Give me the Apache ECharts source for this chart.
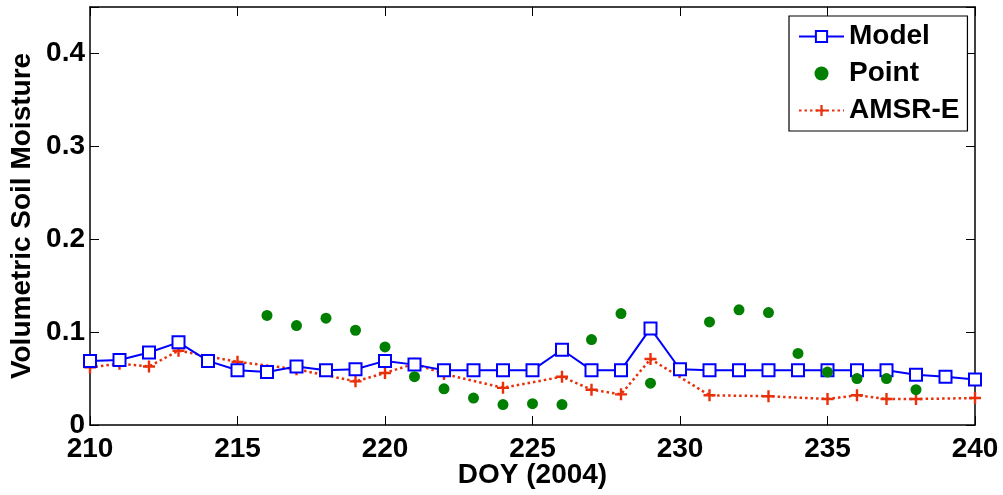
<!DOCTYPE html>
<html>
<head>
<meta charset="utf-8">
<script src="https://cdn.jsdelivr.net/npm/echarts@6/dist/echarts.min.js"></script>
<style>
html,body{margin:0;padding:0;background:#fff;}
#chart{width:1003px;height:495px;}
</style>
</head>
<body>
<div id="chart"></div>
<script>
// ---- data ----
var modelDays = [210,211,212,213,214,215,216,217,218,219,220,221,222,223,224,225,226,227,228,229,230,231,232,233,234,235,236,237,238,239,240];
var modelVals = [0.069,0.070,0.078,0.089,0.069,0.059,0.057,0.063,0.059,0.060,0.069,0.065,0.059,0.059,0.059,0.059,0.081,0.059,0.059,0.104,0.060,0.059,0.059,0.059,0.059,0.059,0.059,0.059,0.054,0.052,0.049];

var pointDays = [216,217,218,219,220,221,222,223,224,225,226,227,228,229,231,232,233,234,235,236,237,238];
var pointVals = [0.118,0.107,0.115,0.102,0.084,0.052,0.039,0.029,0.022,0.023,0.022,0.092,0.120,0.045,0.111,0.124,0.121,0.077,0.057,0.050,0.050,0.038];

var amsrDays = [210,211,212,213,215,217,219,220,221,222,224,226,227,228,229,231,233,235,236,237,238,240];
var amsrVals = [0.062,0.066,0.063,0.080,0.068,0.060,0.047,0.056,0.066,0.055,0.040,0.052,0.038,0.033,0.071,0.032,0.031,0.028,0.032,0.028,0.028,0.029];

var xTicks = [210,215,220,225,230,235,240];
var yTicks = [0,0.1,0.2,0.3,0.4];

function pairs(xs, ys){ return xs.map(function(x,i){ return [x, ys[i]]; }); }

var FONT = '"Liberation Sans", Arial, Helvetica, sans-serif';
var chart = echarts.init(document.getElementById('chart'), null, {renderer:'canvas'});

var frameLine = {show:true, onZero:false, lineStyle:{color:'#000', width:1.5}};
var tickIn = {show:true, inside:true, length:9, lineStyle:{color:'#000', width:1}};

chart.setOption({
  animation:false,
  backgroundColor:'#fff',
  grid:{left:90, right:28, top:7, bottom:70, containLabel:false, outerBoundsMode:'none'},
  legend:{
    left:789, top:16, orient:'vertical',
    backgroundColor:'#fff', borderColor:'#000', borderWidth:1.2, borderRadius:0,
    padding:[5,8,5,9],
    itemWidth:45, itemHeight:14, itemGap:6,
    textStyle:{fontFamily:FONT, fontWeight:'bold', fontSize:28, color:'#000', lineHeight:31, padding:[0,0,0,0]},
    data:['Model','Point','AMSR-E']
  },
  xAxis:[{
    type:'value', min:210, max:240, interval:5,
    name:'DOY (2004)', nameLocation:'middle', nameGap:36, nameMoveOverlap:false,
    nameTextStyle:{fontFamily:FONT, fontWeight:'bold', fontSize:28, color:'#000'},
    axisLine:frameLine, axisTick:tickIn, splitLine:{show:false},
    axisLabel:{fontFamily:FONT, fontWeight:'bold', fontSize:28, color:'#000', margin:10,
      formatter:function(v){ return xTicks.indexOf(v) >= 0 ? String(v) : ''; }}
  },{
    type:'value', position:'top', min:210, max:240, interval:5,
    axisLine:frameLine, axisTick:tickIn, axisLabel:{show:false}, splitLine:{show:false}
  }],
  yAxis:[{
    type:'value', min:0, max:0.45, interval:0.1,
    name:'Volumetric Soil Moisture', nameLocation:'middle', nameGap:54, nameMoveOverlap:false,
    nameTextStyle:{fontFamily:FONT, fontWeight:'bold', fontSize:28, color:'#000'},
    axisLine:frameLine, axisTick:tickIn, splitLine:{show:false},
    axisLabel:{fontFamily:FONT, fontWeight:'bold', fontSize:28, color:'#000', margin:5,
      formatter:function(v){
        for (var i=0;i<yTicks.length;i++){ if (Math.abs(v-yTicks[i])<1e-9) return String(yTicks[i]); }
        return '';
      }}
  },{
    type:'value', position:'right', min:0, max:0.45, interval:0.1,
    axisLine:frameLine, axisTick:tickIn, axisLabel:{show:false}, splitLine:{show:false}
  }],
  series:[{
    name:'Model', type:'line', data:pairs(modelDays, modelVals),
    color:'#0000ff',
    lineStyle:{color:'#0000ff', width:2},
    symbol:'rect', symbolSize:12, showSymbol:true,
    itemStyle:{color:'#fff', borderColor:'#0000ff', borderWidth:2},
    z:3
  },{
    name:'Point', type:'scatter', data:pairs(pointDays, pointVals),
    color:'#007f00',
    symbol:'circle', symbolSize:11,
    itemStyle:{color:'#007f00', opacity:1},
    z:4
  },{
    name:'AMSR-E', type:'line', data:pairs(amsrDays, amsrVals),
    color:'#e8300a',
    lineStyle:{color:'#e8300a', width:2.5, type:[2.5,3]},
    symbol:'path://M4,0H6V4H10V6H6V10H4V6H0V4H4Z', symbolSize:12, showSymbol:true,
    itemStyle:{color:'#e8300a', borderWidth:0},
    z:2
  }]
});
</script>
</body>
</html>
